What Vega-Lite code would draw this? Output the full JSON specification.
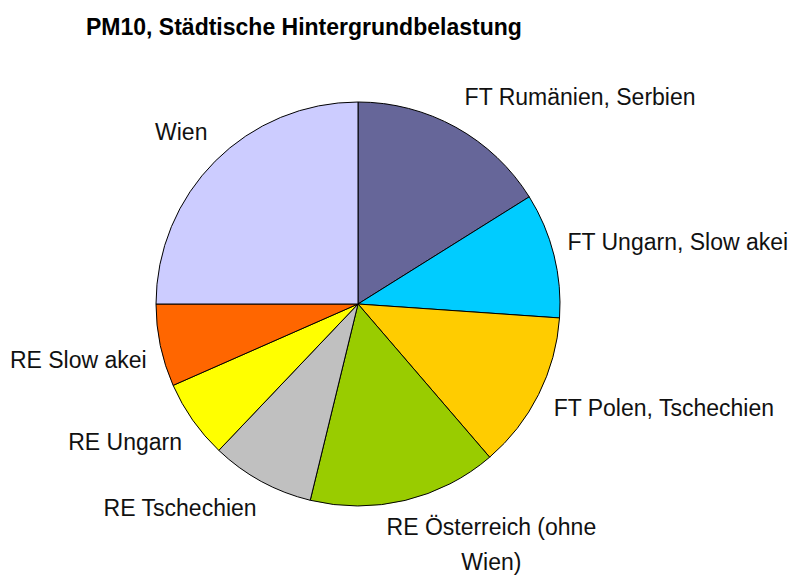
{
  "$schema": "https://vega.github.io/schema/vega-lite/v6.json",
  "autosize": "none",
  "width": 716,
  "height": 544,
  "padding": {"left": 0, "top": 32, "right": 84, "bottom": 0},
  "background": "white",
  "title": {
    "text": "PM10, Städtische Hintergrundbelastung",
    "anchor": "start",
    "frame": "group",
    "offset": 0,
    "dx": 86,
    "dy": 26,
    "baseline": "alphabetic",
    "font": "Liberation Sans",
    "fontSize": 23,
    "fontWeight": "bold",
    "color": "#000000"
  },
  "config": {"view": {"stroke": null}},
  "data": {
    "values": [
      {"ord": 1, "label": "FT Rumänien, Serbien", "value": 16.1},
      {"ord": 2, "label": "FT Ungarn, Slow akei", "value": 10.0},
      {"ord": 3, "label": "FT Polen, Tschechien", "value": 12.6},
      {"ord": 4, "label": "RE Österreich (ohne\nWien)", "value": 15.1},
      {"ord": 5, "label": "RE Tschechien", "value": 8.3},
      {"ord": 6, "label": "RE Ungarn", "value": 6.3},
      {"ord": 7, "label": "RE Slow akei", "value": 6.6},
      {"ord": 8, "label": "Wien", "value": 25.0}
    ]
  },
  "encoding": {
    "theta": {"field": "value", "type": "quantitative", "stack": true},
    "order": {"field": "ord", "type": "quantitative"}
  },
  "layer": [
    {
      "mark": {"type": "arc", "outerRadius": 202, "stroke": "#000000", "strokeWidth": 1},
      "encoding": {
        "color": {
          "field": "ord",
          "type": "nominal",
          "legend": null,
          "scale": {
            "domain": [1, 2, 3, 4, 5, 6, 7, 8],
            "range": ["#666699", "#00CCFF", "#FFCC00", "#99CC00", "#C0C0C0", "#FFFF00", "#FF6600", "#CCCCFF"]
          }
        }
      }
    },
    {
      "mark": {"type": "text", "align": "left", "baseline": "middle", "font": "Liberation Sans", "fontSize": 23, "color": "#111111", "dx": 0, "dy": -14},
      "encoding": {
        "radius": {"value": 220},
        "text": {"condition": {"test": "datum.ord == 1", "field": "label"}, "value": ""}
      }
    },
    {
      "mark": {"type": "text", "align": "left", "baseline": "middle", "font": "Liberation Sans", "fontSize": 23, "color": "#111111", "dx": -4, "dy": -8},
      "encoding": {
        "radius": {"value": 220},
        "text": {"condition": {"test": "datum.ord == 2", "field": "label"}, "value": ""}
      }
    },
    {
      "mark": {"type": "text", "align": "left", "baseline": "middle", "font": "Liberation Sans", "fontSize": 23, "color": "#111111", "dx": -1, "dy": 6},
      "encoding": {
        "radius": {"value": 220},
        "text": {"condition": {"test": "datum.ord == 3", "field": "label"}, "value": ""}
      }
    },
    {
      "mark": {"type": "text", "align": "center", "baseline": "middle", "font": "Liberation Sans", "fontSize": 23, "color": "#111111", "lineBreak": "\n", "lineHeight": 35, "dx": 82, "dy": 10},
      "encoding": {
        "radius": {"value": 220},
        "text": {"condition": {"test": "datum.ord == 4", "field": "label"}, "value": ""}
      }
    },
    {
      "mark": {"type": "text", "align": "right", "baseline": "middle", "font": "Liberation Sans", "fontSize": 23, "color": "#111111", "dx": 4, "dy": 12},
      "encoding": {
        "radius": {"value": 220},
        "text": {"condition": {"test": "datum.ord >= 5 && datum.ord <= 7", "field": "label"}, "value": ""}
      }
    },
    {
      "mark": {"type": "text", "align": "right", "baseline": "middle", "font": "Liberation Sans", "fontSize": 23, "color": "#111111", "dx": 5, "dy": -15},
      "encoding": {
        "radius": {"value": 220},
        "text": {"condition": {"test": "datum.ord == 8", "field": "label"}, "value": ""}
      }
    }
  ]
}
